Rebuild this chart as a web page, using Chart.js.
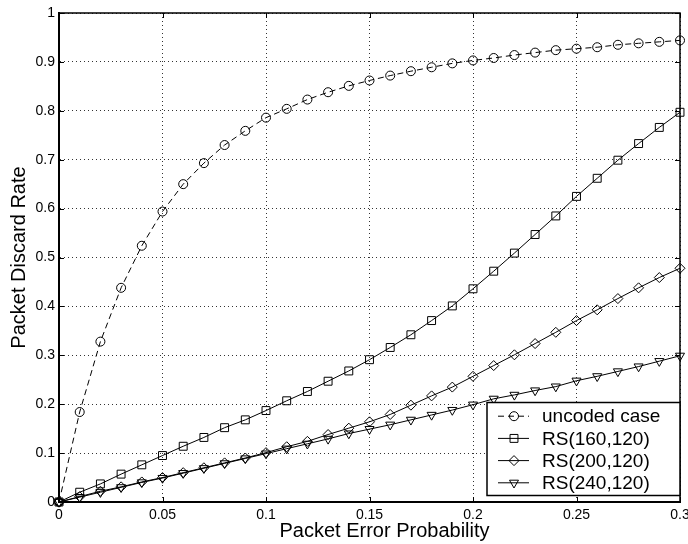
<!DOCTYPE html>
<html>
<head>
<meta charset="utf-8">
<title>Packet Discard Rate</title>
<script src="https://cdn.jsdelivr.net/npm/chart.js@4.4.0/dist/chart.umd.min.js"></script>
<style>
    html, body { margin: 0; padding: 0; background: #fff; }
    #chart { display: block; }
</style>
</head>
<body>
<canvas id="chart" width="688" height="544"></canvas>
<script>
// x values (packet error probability)
var errorProb = [0, 0.01, 0.02, 0.03, 0.04, 0.05, 0.06, 0.07, 0.08, 0.09, 0.1,
    0.11, 0.12, 0.13, 0.14, 0.15, 0.16, 0.17, 0.18, 0.19, 0.2,
    0.21, 0.22, 0.23, 0.24, 0.25, 0.26, 0.27, 0.28, 0.29, 0.3];
// discard rate of each scheme
var uncoded = [0, 0.184, 0.328, 0.438, 0.524, 0.594, 0.650, 0.693, 0.730, 0.759, 0.786,
    0.804, 0.823, 0.838, 0.851, 0.862, 0.872, 0.881, 0.889, 0.897, 0.903,
    0.908, 0.914, 0.919, 0.924, 0.927, 0.930, 0.935, 0.938, 0.941, 0.944];
var rs160 = [0, 0.020, 0.037, 0.057, 0.076, 0.095, 0.114, 0.132, 0.152, 0.168, 0.187,
    0.207, 0.226, 0.247, 0.268, 0.291, 0.316, 0.342, 0.371, 0.401, 0.436,
    0.472, 0.509, 0.547, 0.585, 0.625, 0.662, 0.699, 0.733, 0.766, 0.797];
var rs200 = [0, 0.011, 0.022, 0.031, 0.041, 0.050, 0.060, 0.070, 0.080, 0.090, 0.101,
    0.113, 0.124, 0.138, 0.151, 0.164, 0.179, 0.198, 0.217, 0.235, 0.257,
    0.279, 0.301, 0.324, 0.347, 0.371, 0.393, 0.416, 0.438, 0.459, 0.478];
var rs240 = [0, 0.010, 0.020, 0.030, 0.040, 0.049, 0.059, 0.069, 0.079, 0.089, 0.099,
    0.109, 0.119, 0.129, 0.140, 0.149, 0.158, 0.168, 0.178, 0.188, 0.199,
    0.211, 0.219, 0.228, 0.236, 0.248, 0.257, 0.267, 0.277, 0.288, 0.299];
var seriesNames = ['uncoded case', 'RS(160,120)', 'RS(200,120)', 'RS(240,120)'];
var xTicks = [0, 0.05, 0.1, 0.15, 0.2, 0.25, 0.3];
var yTicks = [0, 0.1, 0.2, 0.3, 0.4, 0.5, 0.6, 0.7, 0.8, 0.9, 1];
var xTitle = 'Packet Error Probability';
var yTitle = 'Packet Discard Rate';

var FONT = "'Liberation Sans', Arial, Helvetica, sans-serif";

function toPoints(ys) {
    return errorProb.map(function (x, i) { return { x: x, y: ys[i] }; });
}

function makeDataset(name, ys, style, radius, rotation, dash) {
    return {
        label: name,
        data: toPoints(ys),
        borderColor: '#000',
        borderWidth: 1,
        borderDash: dash,
        pointStyle: style,
        pointRadius: radius,
        pointRotation: rotation,
        pointBorderWidth: 1,
        pointBorderColor: '#000',
        pointBackgroundColor: 'rgba(0,0,0,0)',
        fill: false,
        tension: 0,
        clip: false
    };
}

// draw one marker, same look as the dataset points
function marker(ctx, ds, x, y) {
    ctx.strokeStyle = '#000';
    ctx.fillStyle = 'rgba(0,0,0,0)';
    ctx.lineWidth = ds.pointBorderWidth;
    Chart.helpers.drawPoint(ctx, {
        pointStyle: ds.pointStyle,
        rotation: ds.pointRotation,
        radius: ds.pointRadius,
        borderWidth: ds.pointBorderWidth
    }, x, y);
}

// top/right frame and the small inward ticks
var framePlugin = {
    id: 'frame',
    beforeDatasetsDraw: function (chart) {
        var ctx = chart.ctx;
        var a = chart.chartArea;
        var xs = chart.scales.x, ys = chart.scales.y;
        ctx.save();
        ctx.strokeStyle = '#000';
        ctx.lineWidth = 1.5;
        ctx.beginPath();
        ctx.moveTo(a.left, a.top);
        ctx.lineTo(a.right, a.top);
        ctx.lineTo(a.right, a.bottom);
        ctx.stroke();
        ctx.lineWidth = 1;
        ctx.beginPath();
        xTicks.forEach(function (v) {
            var px = Math.round(xs.getPixelForValue(v)) + 0.5;
            ctx.moveTo(px, a.top); ctx.lineTo(px, a.top + 5);
            ctx.moveTo(px, a.bottom); ctx.lineTo(px, a.bottom - 5);
        });
        yTicks.forEach(function (v) {
            var py = Math.round(ys.getPixelForValue(v)) + 0.5;
            ctx.moveTo(a.left, py); ctx.lineTo(a.left + 5, py);
            ctx.moveTo(a.right, py); ctx.lineTo(a.right - 5, py);
        });
        ctx.stroke();
        ctx.restore();
    }
};

// x label and the boxed legend in the lower right
var labelsPlugin = {
    id: 'labels',
    afterDraw: function (chart) {
        var ctx = chart.ctx;
        var a = chart.chartArea;
        ctx.save();
        ctx.fillStyle = '#000';
        ctx.font = '20px ' + FONT;
        ctx.textAlign = 'center';
        ctx.textBaseline = 'middle';
        ctx.fillText(xTitle, (a.left + a.right) / 2 + 15, chart.height - 12.5);

        var w = 193, h = 93;
        var left = a.right - w, top = a.bottom - 6.5 - h;
        ctx.fillStyle = '#fff';
        ctx.fillRect(left, top, w, h);
        ctx.strokeStyle = '#000';
        ctx.lineWidth = 1.5;
        ctx.strokeRect(left, top, w, h);

        ctx.font = '19px ' + FONT;
        ctx.textAlign = 'left';
        chart.data.datasets.forEach(function (ds, i) {
            var y = top + 13.7 + i * 22.2;
            ctx.strokeStyle = '#000';
            ctx.lineWidth = ds.borderWidth;
            ctx.setLineDash(ds.borderDash || []);
            ctx.beginPath();
            ctx.moveTo(left + 11, y);
            ctx.lineTo(left + 42, y);
            ctx.stroke();
            ctx.setLineDash([]);
            marker(ctx, ds, left + 27, y);
            ctx.fillStyle = '#000';
            ctx.fillText(ds.label, left + 55, y + 1);
        });
        ctx.restore();
    }
};

var ctx = document.getElementById('chart').getContext('2d');
var chart = new Chart(ctx, {
    type: 'line',
    data: {
        datasets: [
            makeDataset(seriesNames[0], uncoded, 'circle', 4.5, 0, [6, 4]),
            makeDataset(seriesNames[1], rs160, 'rect', 5.6, 0, []),
            makeDataset(seriesNames[2], rs200, 'rectRot', 5, 0, []),
            makeDataset(seriesNames[3], rs240, 'triangle', 5.2, 180, [])
        ]
    },
    options: {
        responsive: false,
        animation: false,
        events: [],
        devicePixelRatio: 1,
        layout: { padding: { top: 13, right: 8, left: 0, bottom: 0 } },
        plugins: {
            legend: { display: false },
            tooltip: { enabled: false }
        },
        scales: {
            x: {
                type: 'linear',
                min: 0,
                max: 0.3,
                afterBuildTicks: function (scale) {
                    scale.ticks = xTicks.map(function (v) { return { value: v }; });
                },
                afterFit: function (scale) {
                    scale.height = 42;
                    scale.paddingLeft = 0; scale.paddingRight = 0;
                    scale.paddingTop = 0; scale.paddingBottom = 0;
                },
                ticks: {
                    color: '#000',
                    font: { family: FONT, size: 14 },
                    padding: 5,
                    maxRotation: 0,
                    autoSkip: false,
                    callback: function (v) { return String(v); }
                },
                grid: { color: '#333', lineWidth: 1, drawTicks: false },
                border: { display: true, color: '#000', width: 2, dash: [1, 3] },
                title: { display: false }
            },
            y: {
                type: 'linear',
                min: 0,
                max: 1,
                afterBuildTicks: function (scale) {
                    scale.ticks = yTicks.map(function (v) { return { value: v }; });
                },
                afterFit: function (scale) {
                    scale.width = 59;
                    scale.paddingLeft = 0; scale.paddingRight = 0;
                    scale.paddingTop = 0; scale.paddingBottom = 0;
                },
                ticks: {
                    color: '#000',
                    font: { family: FONT, size: 14 },
                    padding: 4,
                    autoSkip: false,
                    callback: function (v) { return String(v); }
                },
                grid: { color: '#333', lineWidth: 1, drawTicks: false },
                border: { display: true, color: '#000', width: 2, dash: [1, 3] },
                title: {
                    display: true,
                    text: yTitle,
                    color: '#000',
                    font: { family: FONT, size: 20 },
                    padding: { top: 7.5, bottom: 0 }
                }
            }
        }
    },
    plugins: [framePlugin, labelsPlugin]
});
</script>
</body>
</html>
